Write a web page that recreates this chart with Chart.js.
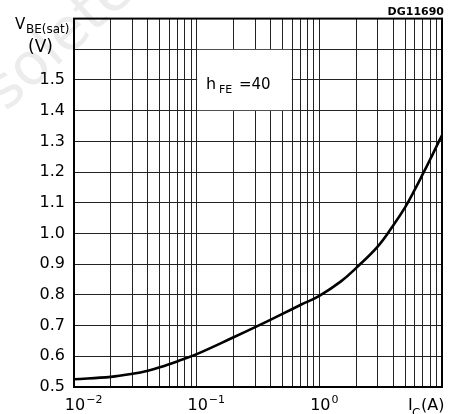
<!DOCTYPE html>
<html>
<head>
<meta charset="utf-8">
<script src="https://cdn.jsdelivr.net/npm/chart.js@4.4.1/dist/chart.umd.min.js"></script>
<style>
html,body{margin:0;padding:0;background:#fff;}
#wrap{width:454px;height:414px;position:relative;}
</style>
</head>
<body>
<div id="wrap"><canvas id="c" width="454" height="414"></canvas></div>
<script>
// Collector current I_C (A)
const icValues = [0.01, 0.02, 0.03, 0.04, 0.05, 0.07, 0.1, 0.2, 0.3, 0.5, 0.7, 1, 1.5, 2, 3, 4, 5, 6, 7, 8, 9, 10];
// V_BE(sat) (V), hFE = 40
const vbeValues = [0.525, 0.533, 0.543, 0.553, 0.564, 0.584, 0.607, 0.662, 0.695, 0.738, 0.767, 0.797, 0.844, 0.888, 0.958, 1.026, 1.085, 1.143, 1.195, 1.241, 1.283, 1.320];

const xGridValues = [0.01,0.02,0.03,0.04,0.05,0.06,0.07,0.08,0.09,0.1,0.2,0.3,0.4,0.5,0.6,0.7,0.8,0.9,1,2,3,4,5,6,7,8,9,10];
const xLabelValues = [0.01, 0.1, 1];
const xLabelExponents = ['\u22122', '\u22121', '0'];
const yTickValues = [0.5,0.6,0.7,0.8,0.9,1.0,1.1,1.2,1.3,1.4,1.5,1.6,1.7];
const yLabelMax = 1.5;
const annotationText = {h: 'h', sub: 'FE', rest: '=40'};
const FONT = '"DejaVu Sans", sans-serif';

const decor = {
  id: 'decor',
  beforeDraw(chart) {
    const ctx = chart.ctx;
    ctx.save();
    ctx.fillStyle = '#fff';
    ctx.fillRect(0, 0, chart.width, chart.height);
    // faint watermark
    ctx.translate(6, 112);
    ctx.rotate(-42 * Math.PI / 180);
    ctx.font = '58px ' + FONT;
    ctx.fillStyle = '#ececec';
    ctx.fillText('solete', 0, 0);
    ctx.restore();
  },
  beforeDatasetsDraw(chart) {
    const ctx = chart.ctx;
    const xs = chart.scales.x, ys = chart.scales.y;
    const x0 = xs.getPixelForValue(0.1), x1 = xs.getPixelForValue(0.6);
    const y0 = ys.getPixelForValue(1.6), y1 = ys.getPixelForValue(1.4);
    ctx.save();
    ctx.fillStyle = '#fff';
    ctx.fillRect(x0 + 0.5, y0 + 0.5, x1 - x0 - 1, y1 - y0 - 1);
    ctx.fillStyle = '#000';
    ctx.textBaseline = 'alphabetic';
    ctx.font = '16px ' + FONT;
    ctx.fillText(annotationText.h, 206, 89);
    ctx.font = '11px ' + FONT;
    ctx.fillText(annotationText.sub, 219, 93);
    ctx.font = '15px ' + FONT;
    ctx.fillText(annotationText.rest, 239, 89);
    ctx.restore();
  },
  afterDraw(chart) {
    const ctx = chart.ctx;
    const a = chart.chartArea;
    const xs = chart.scales.x;
    ctx.save();
    ctx.strokeStyle = '#000';
    ctx.lineWidth = 2;
    ctx.strokeRect(a.left, a.top, a.right - a.left, a.bottom - a.top);
    ctx.fillStyle = '#000';
    ctx.textBaseline = 'alphabetic';
    // x tick labels: 10 with superscript exponent
    xLabelValues.forEach((v, i) => {
      const px = xs.getPixelForValue(v);
      ctx.font = '16px ' + FONT;
      ctx.textAlign = 'center';
      ctx.fillText('10', px + 1, 410);
      const w = ctx.measureText('10').width;
      ctx.textAlign = 'left';
      ctx.font = '11px ' + FONT;
      ctx.fillText(xLabelExponents[i], px + 1 + w / 2 + 1, 403);
    });
    // x axis title
    ctx.textAlign = 'left';
    ctx.font = '16px ' + FONT;
    ctx.fillText('I', 408, 410);
    ctx.font = '12px ' + FONT;
    ctx.fillText('C', 412, 417);
    ctx.font = '16px ' + FONT;
    ctx.fillText('(A)', 421, 410);
    // y axis title
    ctx.font = '15px ' + FONT;
    ctx.fillText('V', 15, 29);
    ctx.font = '12px ' + FONT;
    ctx.fillText('BE(sat)', 26, 33);
    ctx.font = '17px ' + FONT;
    ctx.fillText('(V)', 28, 52);
    // figure code
    ctx.font = 'bold 11px ' + FONT;
    ctx.textAlign = 'right';
    ctx.fillText('DG11690', 444, 15);
    ctx.restore();
  }
};

new Chart(document.getElementById('c'), {
  type: 'line',
  data: {
    datasets: [{
      data: icValues.map((x, i) => ({x: x, y: vbeValues[i]})),
      borderColor: '#000',
      borderWidth: 2.6,
      pointRadius: 0,
      tension: 0.4,
      fill: false
    }]
  },
  options: {
    responsive: false,
    animation: false,
    devicePixelRatio: 1,
    layout: {padding: {top: 18, right: 12, left: 0, bottom: 0}},
    plugins: {legend: {display: false}, tooltip: {enabled: false}},
    scales: {
      x: {
        type: 'logarithmic',
        min: 0.01, max: 10,
        afterBuildTicks: s => { s.ticks = xGridValues.map(v => ({value: v})); },
        afterFit: s => { s.height = 27; },
        ticks: {display: false, autoSkip: false},
        grid: {color: '#222', lineWidth: 1, drawTicks: false},
        border: {display: false}
      },
      y: {
        type: 'linear',
        min: 0.5, max: 1.7,
        afterBuildTicks: s => { s.ticks = yTickValues.map(v => ({value: v})); },
        afterFit: s => { s.width = 74; },
        ticks: {
          autoSkip: false,
          padding: 9,
          color: '#000',
          font: {family: 'DejaVu Sans', size: 16},
          callback: v => (v <= yLabelMax + 0.001 ? v.toFixed(1) : '')
        },
        grid: {color: '#222', lineWidth: 1, drawTicks: false},
        border: {display: false}
      }
    }
  },
  plugins: [decor]
});
</script>
</body>
</html>
